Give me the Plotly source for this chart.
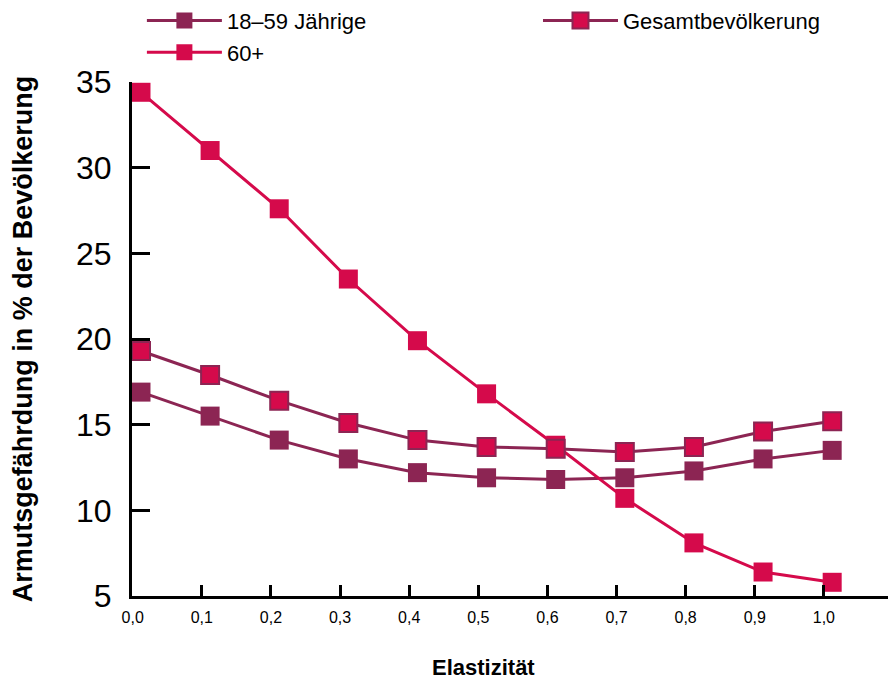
import plotly.graph_objects as go

elastizitaet = [0.0, 0.1, 0.2, 0.3, 0.4, 0.5, 0.6, 0.7, 0.8, 0.9, 1.0]
x_labels = ["0,0", "0,1", "0,2", "0,3", "0,4", "0,5", "0,6", "0,7", "0,8", "0,9", "1,0"]
jaehrige_18_59 = [16.9, 15.5, 14.1, 13.0, 12.2, 11.9, 11.8, 11.9, 12.3, 13.0, 13.5]
gesamt = [19.3, 17.9, 16.4, 15.1, 14.1, 13.7, 13.6, 13.4, 13.7, 14.6, 15.2]
ab_60 = [34.4, 31.0, 27.6, 23.5, 19.9, 16.8, 13.8, 10.7, 8.1, 6.4, 5.8]
y_ticks = [5, 10, 15, 20, 25, 30, 35]

PURPLE = "#8C2553"
CRIMSON = "#D50A4B"
FONT = "Liberation Sans, Arial, Helvetica, sans-serif"

# tick marks / labels in the original sit slightly left of the data points
TICK_SHIFT = -0.012
tick_pos = [round(v + TICK_SHIFT, 4) for v in elastizitaet] + [1.088]
tick_txt = x_labels + [""]

fig = go.Figure()
fig.add_trace(go.Scatter(
    x=elastizitaet, y=jaehrige_18_59, name="18–59 Jährige", mode="lines+markers",
    legend="legend",
    line=dict(color=PURPLE, width=3),
    marker=dict(symbol="square", size=19, color=PURPLE, line=dict(color=PURPLE, width=0)),
))
fig.add_trace(go.Scatter(
    x=elastizitaet, y=ab_60, name="60+", mode="lines+markers",
    legend="legend",
    line=dict(color=CRIMSON, width=3),
    marker=dict(symbol="square", size=19, color=CRIMSON, line=dict(color=CRIMSON, width=0)),
))
fig.add_trace(go.Scatter(
    x=elastizitaet, y=gesamt, name="Gesamtbevölkerung", mode="lines+markers",
    legend="legend2",
    line=dict(color=PURPLE, width=3),
    marker=dict(symbol="square", size=18, color=CRIMSON, line=dict(color=PURPLE, width=2)),
))

legend_common = dict(
    orientation="v", yanchor="top", xanchor="left",
    font=dict(size=22, family=FONT), traceorder="normal",
    itemwidth=75, bgcolor="rgba(0,0,0,0)", borderwidth=0,
)

fig.update_layout(
    width=888, height=671,
    margin=dict(l=124, r=3, t=74, b=83, autoexpand=False),
    paper_bgcolor="white", plot_bgcolor="white",
    font=dict(family=FONT, color="black"),
    legend=dict(x=0.013, y=1.16, **legend_common),
    legend2=dict(x=0.5335, y=1.16, **legend_common),
    showlegend=True,
    annotations=[dict(
        text="<b>Elastizität</b>", xref="paper", yref="paper",
        x=0.4625, y=-0.140, xanchor="center", yanchor="middle",
        showarrow=False, font=dict(size=22, family=FONT),
    )],
)

fig.update_xaxes(
    range=[-0.013, 1.088], tickmode="array", tickvals=tick_pos, ticktext=tick_txt,
    ticks="inside", ticklen=11, tickwidth=2.5, tickcolor="black",
    tickfont=dict(size=16, family=FONT), showgrid=False, zeroline=False,
    showline=True, linecolor="black", linewidth=3, ticklabelstandoff=5,
)
fig.update_yaxes(
    range=[5, 35], tickmode="array", tickvals=y_ticks,
    ticks="inside", ticklen=18, tickwidth=2.5, tickcolor="black",
    tickfont=dict(size=32, family=FONT), showgrid=False, zeroline=False,
    showline=True, linecolor="black", linewidth=3, ticklabelstandoff=11,
    title=dict(text="<b>Armutsgefährdung in % der Bevölkerung</b>", font=dict(size=27, family=FONT), standoff=38),
)

fig.write_html("out.html")
